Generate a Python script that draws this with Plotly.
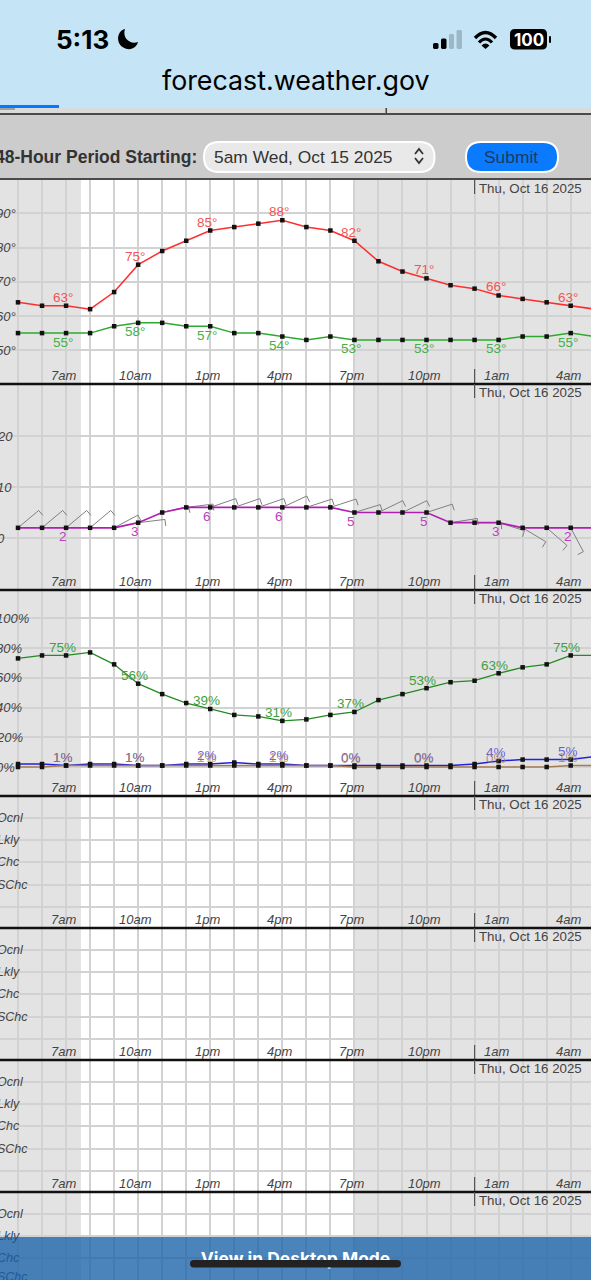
import math
import plotly.graph_objects as go

W, H = 591, 1280

# hours are counted from 5am Wed
hours = list(range(25))
temp = [64, 63, 63, 62, 67, 75, 79, 82, 85, 86, 87, 88, 86, 85, 82, 76, 73, 71, 69, 68, 66, 65, 64, 63, 62]
dew = [55, 55, 55, 55, 57, 58, 58, 57, 57, 55, 55, 54, 53, 54, 53, 53, 53, 53, 53, 53, 53, 54, 54, 55, 54]
wind = [2, 2, 2, 2, 2, 3, 5, 6, 6, 6, 6, 6, 6, 6, 5, 5, 5, 5, 3, 3, 3, 2, 2, 2, 2]
wind_angle = [40, 40, 40, 40, 28, 7, 13, 7, 19, 19, 19, 25, 18, 18, 17, 26, 26, 18, 9, 0, -17, -31, -41, -62, -62]
humidity = [73, 75, 75, 77, 69, 56, 49, 43, 39, 35, 34, 31, 32, 35, 37, 45, 49, 53, 57, 58, 63, 67, 69, 75, 75]
sky = [2, 2, 1, 2, 2, 1, 1, 2, 2, 3, 2, 2, 1, 1, 1, 1, 1, 1, 1, 2, 4, 5, 5, 5, 7]
precip = [0, 0, 1, 1, 1, 1, 1, 1, 1, 1, 1, 1, 1, 1, 0, 0, 0, 0, 0, 0, 0, 0, 0, 1, 1]

label_hours = [2, 5, 8, 11, 14, 17, 20, 23]
tick_text = ["7am", "10am", "1pm", "4pm", "7pm", "10pm", "1am", "4am"]
sky_labels = ["1%", "1%", "2%", "2%", "0%", "0%", "4%", "5%"]
precip_labels = ["1%", "1%", "1%", "1%", "0%", "0%", "0%", "1%"]

temp_ticks = [50, 60, 70, 80, 90]
wind_ticks = [0, 10, 20]
pct_ticks = [0, 20, 40, 60, 80, 100]
chance_ticks = ["SChc", "Chc", "Lkly", "Ocnl"]

sunrise = 2.62
sunset = 14
date_text = "Thu, Oct 16 2025"
date_hour = 19

# pixel layout: top, bottom, pixel of the zero line value, pixels per unit, value at that pixel
HOUR_PX = 24.03
X0 = 18
xrange_ = [-X0 / HOUR_PX, (W - X0) / HOUR_PX]
panels = [
    dict(top=180, bottom=384, ref=316, scale=3.42, val=60, ticks=temp_ticks),
    dict(top=384, bottom=590, ref=538, scale=5.1, val=0, ticks=wind_ticks),
    dict(top=590, bottom=796, ref=767, scale=1.4875, val=0, ticks=pct_ticks),
    dict(top=796, bottom=928, ref=907, scale=22.3, val=0, ticks=[0, 1, 2, 3, 4]),
    dict(top=928, bottom=1060, ref=1039, scale=22.3, val=0, ticks=[0, 1, 2, 3, 4]),
    dict(top=1060, bottom=1192, ref=1171, scale=22.3, val=0, ticks=[0, 1, 2, 3, 4]),
    dict(top=1192, bottom=1280, ref=1303, scale=22.3, val=0, ticks=[1, 2, 3, 4]),
]

RED = "#FF2E2E"
DEW = "#2DAA2D"
PURPLE = "#B020B0"
RH = "#228B22"
BLUE = "#2222DD"
BROWN = "#A87C52"
GRID = "#D2D2D2"
NIGHT = "#E3E3E3"
TEXT = "#444444"
FONT = "Liberation Sans"


def px(x):
    return x / W


def py(y):
    return 1 - y / H


def path(*cmds):
    # turn pixel coordinates into a paper coordinate svg path
    out = []
    for c in cmds:
        if isinstance(c, str):
            out.append(c)
        else:
            out.append(f"{px(c[0]):.5f},{py(c[1]):.5f}")
    return " ".join(out)


def rounded(x0, y0, x1, y1, r):
    return path("M", (x0 + r, y0), "L", (x1 - r, y0), "Q", (x1, y0), (x1, y0 + r), "L", (x1, y1 - r),
                "Q", (x1, y1), (x1 - r, y1), "L", (x0 + r, y1), "Q", (x0, y1), (x0, y1 - r),
                "L", (x0, y0 + r), "Q", (x0, y0), (x0 + r, y0), "Z")


fig = go.Figure()
layout = {}
for n, p in enumerate(panels, start=1):
    ymax = p["val"] + (p["ref"] - p["top"]) / p["scale"]
    ymin = p["val"] + (p["ref"] - p["bottom"]) / p["scale"]
    layout[f"xaxis{n}"] = dict(domain=[0, 1], range=xrange_, anchor=f"y{n}", tick0=0, dtick=1, showgrid=True,
                               gridcolor=GRID, gridwidth=1.6, showticklabels=False, zeroline=False, ticks="")
    layout[f"yaxis{n}"] = dict(domain=[py(p["bottom"]), py(p["top"])], range=[ymin, ymax], anchor=f"x{n}",
                               tickmode="array", tickvals=p["ticks"], showgrid=True, gridcolor=GRID, gridwidth=1.6,
                               showticklabels=False, zeroline=False, ticks="")


def add_line(values, color, n, width=1.5):
    fig.add_trace(go.Scatter(x=hours, y=values, mode="lines+markers", xaxis=f"x{n}", yaxis=f"y{n}",
                             line=dict(color=color, width=width),
                             marker=dict(symbol="square", size=4.5, color="#111111"), showlegend=False))


add_line(temp, RED, 1)
add_line(dew, DEW, 1)

# wind barbs, drawn under the speed line
barb_x, barb_y = [], []
for h, w, a in zip(hours, wind, wind_angle):
    r = math.radians(a)
    tip_x = h + 27 * math.cos(r) / HOUR_PX
    tip_y = w + 27 * math.sin(r) / panels[1]["scale"]
    end_x = tip_x + 6.5 * math.cos(r - math.pi / 2) / HOUR_PX
    end_y = tip_y + 6.5 * math.sin(r - math.pi / 2) / panels[1]["scale"]
    barb_x += [h, tip_x, end_x, None]
    barb_y += [w, tip_y, end_y, None]
fig.add_trace(go.Scatter(x=barb_x, y=barb_y, mode="lines", xaxis="x2", yaxis="y2",
                         line=dict(color="#808080", width=1), showlegend=False))
add_line(wind, PURPLE, 2, 1.7)

add_line(humidity, RH, 3, 1.3)
add_line(sky, BLUE, 3)
add_line(precip, BROWN, 3)

# the chance panels hold no data, empty traces keep their grids drawn
for n in [4, 5, 6, 7]:
    fig.add_trace(go.Scatter(x=[], y=[], mode="lines", xaxis=f"x{n}", yaxis=f"y{n}", showlegend=False))

# ---- text
ann = []


def text(t, x, y, size=12.5, color=TEXT, xref="paper", yref="paper", italic=False, anchor="center",
         dx=0, dy=0, bold=False):
    ann.append(dict(text=f"<b>{t}</b>" if bold else t, x=x, y=y, xref=xref, yref=yref, xanchor=anchor,
                    yanchor="middle", xshift=dx, yshift=dy, showarrow=False, borderpad=0,
                    font=dict(family=FONT, size=size, color=color, style="italic" if italic else "normal")))


for n, p in enumerate(panels, start=1):
    text(date_text, px(478), py(p["top"] + 8.5), size=13.3, anchor="left")
    if n < 7:
        for h, t in zip(label_hours, tick_text):
            text(t, h, py(p["bottom"] - 8.5), size=13, xref=f"x{n}", italic=True, dx=-2.5)

for v in temp_ticks:
    text(f"{v}°", px(-5), v, size=13, yref="y1", italic=True, anchor="left")
for v in wind_ticks:
    text(str(v), px(-4), v, size=13, yref="y2", italic=True, anchor="left")
for v in pct_ticks:
    text(f"{v}%", px(-5), v, size=13, yref="y3", italic=True, anchor="left")
for n in [4, 5, 6, 7]:
    p = panels[n - 1]
    for i, t in enumerate(chance_ticks, start=1):
        tint = TEXT
        if n == 7 and i < 3:
            tint = "#1F5C98"
        elif n == 7 and i == 3:
            tint = "#2A4F78"
        # paper position, the last panel's SChc sits just past the bottom of its axis
        text(t, px(-4), py(min(p["ref"] - i * p["scale"], H - 3)), size=12.5, color=tint, italic=True, anchor="left")

for h in label_hours:
    text(f"{temp[h]}°", h, temp[h], size=13.5, color="#F25555", xref="x1", yref="y1", dx=-3, dy=8.5)
    text(f"{dew[h]}°", h, dew[h], size=13.5, color="#45B045", xref="x1", yref="y1", dx=-3, dy=-9)
    text(str(wind[h]), h, wind[h], size=13.5, color="#C040C0", xref="x2", yref="y2", dx=-3, dy=-9)
    text(f"{humidity[h]}%", h, humidity[h], size=13.5, color="#3F9F3F", xref="x3", yref="y3", dx=-4, dy=8)
for h, s, b in zip(label_hours, sky_labels, precip_labels):
    text(s, h, sky[h], size=13.5, color="rgba(50,50,220,0.75)", xref="x3", yref="y3", dx=-3, dy=8.5)
    text(b, h, precip[h], size=13.5, color="rgba(165,120,80,0.75)", xref="x3", yref="y3", dx=-3, dy=8.5)

# browser header
text("5:13", px(83), py(39), size=26, color="#000000", bold=True)
ann[-1]["font"]["family"] = "Inter"
text("forecast.weather.gov", px(296), py(80.5), size=26.8, color="#000000")
ann[-1]["font"]["family"] = "Inter"
text("100", px(528.5), py(39.5), size=17, color="#FFFFFF", bold=True)
ann[-1]["font"]["family"] = "Inter"
text("48-Hour Period Starting:", px(198), py(156.5), size=17.5, color="#333333", anchor="right", bold=True)
text("5am Wed, Oct 15 2025", px(213), py(157), size=17.4, color="#333333", anchor="left")
text("Submit", px(511), py(157), size=17.4, color="#1F3A5F")

# ---- shapes
shapes = []


def rect(x0, y0, x1, y1, color, layer="above"):
    shapes.append(dict(type="rect", xref="paper", yref="paper", x0=px(x0), x1=px(x1), y0=py(y0), y1=py(y1),
                       fillcolor=color, line=dict(width=0), layer=layer))


def shape_path(d, fill=None, line=None, width=0):
    s = dict(type="path", path=d, xref="paper", yref="paper", layer="above", line=dict(width=width))
    if fill:
        s["fillcolor"] = fill
    if line:
        s["line"] = dict(color=line, width=width)
    shapes.append(s)


# night shading sits under the grid
for a, b in [(xrange_[0], sunrise), (sunset, xrange_[1])]:
    shapes.append(dict(type="rect", xref="x", yref="paper", x0=a, x1=b, y0=0, y1=py(180),
                       fillcolor=NIGHT, line=dict(width=0), layer="below"))

for p in panels:
    if p["top"] > 180:
        rect(0, p["top"] - 1.2, W, p["top"] + 1.2, "#111111")
    xd = px(X0 + date_hour * HOUR_PX)
    shapes.append(dict(type="line", xref="paper", yref="paper", x0=xd, x1=xd, y0=py(p["top"]), y1=py(p["top"] + 14),
                       line=dict(color="#555555", width=1.2), layer="above"))
    if p["bottom"] < H:
        shapes.append(dict(type="line", xref="paper", yref="paper", x0=xd, x1=xd, y0=py(p["bottom"] - 15),
                           y1=py(p["bottom"]), line=dict(color="#555555", width=1.2), layer="above"))

rect(0, 0, W, 108, "#C5E4F5")
rect(0, 105, 59, 108, "#007AFF")
rect(0, 108, W, 113, "#DADADA")
rect(0, 108, 15, 110, "#A0A0A0")
rect(385.5, 108, 387, 113, "#444444")
rect(0, 113, W, 115, "#4A4A4A")
rect(0, 115, W, 178, "#CCCCCC")
rect(0, 178, W, 180, "#4A4A4A")

# select and submit button
shape_path(rounded(204, 142, 434.5, 172, 15), fill="#E9E9E9", line="#FFFFFF", width=2)
shape_path(rounded(466, 142, 558, 172, 15), fill="#0A7AFF", line="#FFFFFF", width=2)
shape_path(path("M", (415, 154), "L", (419, 149), "L", (423, 154)), line="#333333", width=1.8)
shape_path(path("M", (415, 158), "L", (419, 163), "L", (423, 158)), line="#333333", width=1.8)

# status bar icons
shape_path(path("M", (125, 29), "C", (116, 31), (115, 46), (127, 49), "C", (133, 50), (137, 46), (138, 42),
                "C", (130, 45), (122, 38), (125, 29), "Z"), fill="#000000")
shape_path(rounded(433, 43, 438.5, 49, 1.5), fill="#000000")
shape_path(rounded(441, 38.5, 446.5, 49, 1.5), fill="#000000")
shape_path(rounded(449, 34, 454, 49, 1.5), fill="#9DB7C6")
shape_path(rounded(456.5, 30, 462, 49, 1.5), fill="#9DB7C6")
shape_path(path("M", (475, 38), "Q", (485.5, 27), (496, 38)), line="#000000", width=3.4)
shape_path(path("M", (479, 42.5), "Q", (485.5, 35.5), (492, 42.5)), line="#000000", width=3.2)
shape_path(path("M", (481.5, 45.5), "Q", (485.5, 41.5), (489.5, 45.5), "L", (485.5, 49), "Z"), fill="#000000")
shape_path(rounded(510, 29, 547, 49.5, 5), fill="#000000")
shape_path(rounded(549, 36, 551, 43, 1), fill="#000000")

# desktop mode banner, home indicator goes on top of its label
shapes.append(dict(type="rect", xref="paper", yref="paper", x0=0, x1=1, y0=0, y1=py(1237),
                   fillcolor="rgba(30,100,170,0.8)", line=dict(width=0), layer="above",
                   label=dict(text="<b>View in Desktop Mode</b>", textposition="middle center",
                              font=dict(family="Inter", size=17.4, color="#FFFFFF"))))
shape_path(rounded(190, 1260, 401, 1267.5, 3.7), fill="#222222")

fig.update_layout(width=W, height=H, margin=dict(l=0, r=0, t=0, b=0), paper_bgcolor="#FFFFFF",
                  plot_bgcolor="rgba(0,0,0,0)", showlegend=False, annotations=ann, shapes=shapes,
                  font=dict(family=FONT), **layout)

fig.write_html("out.html", config={"displayModeBar": False},
               post_script="document.body.style.margin='0';document.body.style.overflow='hidden';")
